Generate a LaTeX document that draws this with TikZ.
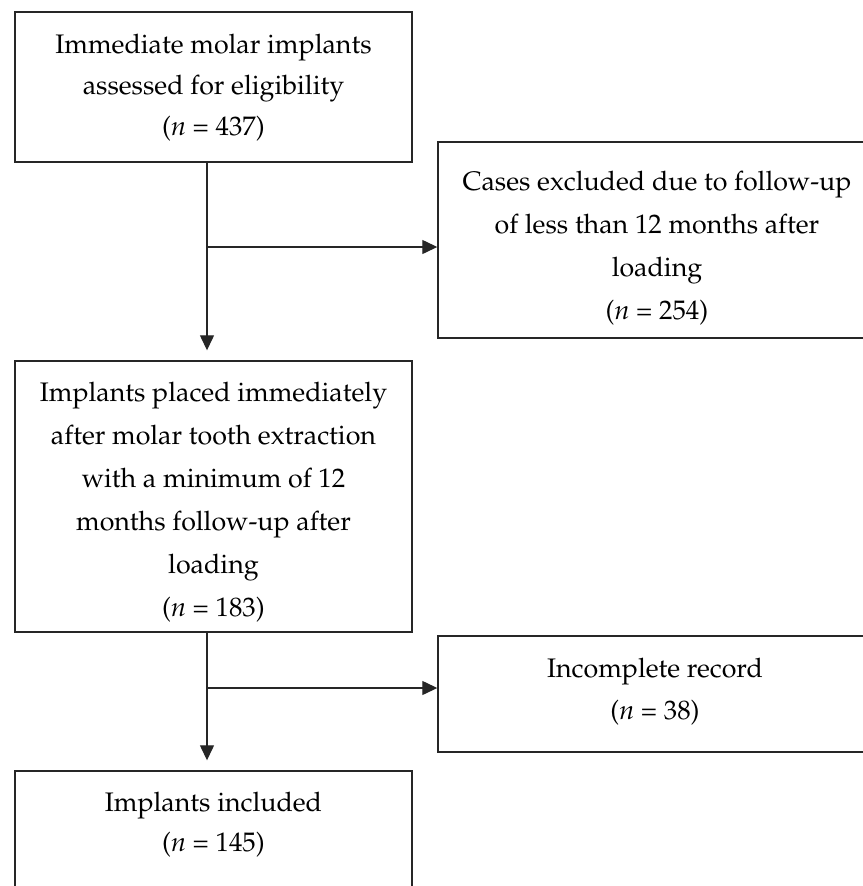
\documentclass[tikz,border=0pt]{standalone}
\usepackage[T1]{fontenc}
\usepackage{mathpazo}
\usetikzlibrary{arrows.meta}

\begin{document}
\begin{tikzpicture}[
  x=1pt, y=-1pt,
  font=\fontsize{26.8}{43}\selectfont,
  box/.style={draw=black!85, line width=1.4pt, inner sep=0pt},
  wide/.style={box, minimum width=397pt},
  side/.style={box, minimum width=434pt},
  txt/.style={align=center, inner sep=0pt},
  arr/.style={draw=black!85, line width=1.3pt, -{Triangle[length=15pt,width=14pt]}},
  down/.style={arr, shorten >=10pt}
]
\useasboundingbox (0,0) rectangle (862,886);
\node[wide, minimum height=150pt] (elig) at (213.5,87) {};
\node[side, minimum height=196pt] (excl) at (655,240) {};
\node[wide, minimum height=271pt] (placed) at (213.5,496.5) {};
\node[side, minimum height=116pt] (incomp) at (655,694) {};
\node[wide, minimum height=150pt] (incl) at (213.5,846) {};
\node[txt, font=\fontsize{26.8}{41}\selectfont] (elig-t) at (213.5,88)
  {Immediate molar implants\\assessed for eligibility\\(\textit{n} = 437)};
\node[txt] (excl-t) at (657,248)
  {Cases excluded due to follow-up\\of less than 12 months after\\loading\\(\textit{n} = 254)};
\node[txt] (placed-t) at (213.5,502)
  {Implants placed immediately\\after molar tooth extraction\\with a minimum of 12\\months follow-up after\\loading\\(\textit{n} = 183)};
\node[txt, font=\fontsize{26.8}{42}\selectfont] (incomp-t) at (655,692)
  {Incomplete record\\(\textit{n} = 38)};
\node[txt, font=\fontsize{26.8}{40}\selectfont] (incl-t) at (213.5,825)
  {Implants included\\(\textit{n} = 145)};
\coordinate (split1) at (207,247);
\coordinate (split2) at (207,688);
\draw[down] (elig.south -| split1) -- (placed.north -| split1);
\draw[arr] (split1) -- (split1 -| excl.west);
\draw[down] (placed.south -| split2) -- (incl.north -| split2);
\draw[arr] (split2) -- (split2 -| incomp.west);
\end{tikzpicture}
\end{document}
